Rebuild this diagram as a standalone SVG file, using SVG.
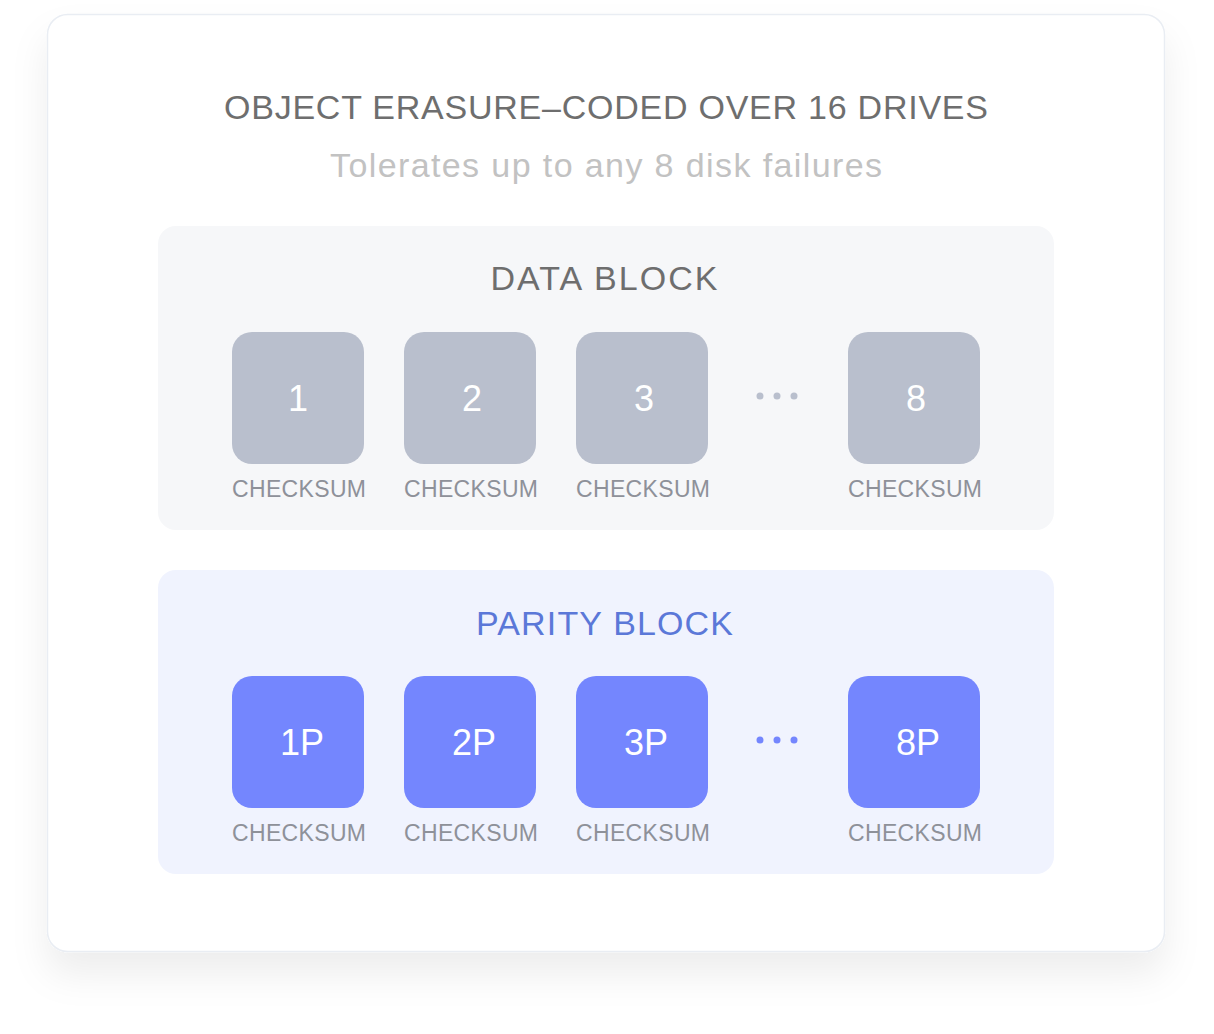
<svg xmlns="http://www.w3.org/2000/svg" width="1214" height="1034" viewBox="0 0 1214 1034">
<defs>
<filter id="sh" x="-10%" y="-10%" width="120%" height="125%">
<feDropShadow dx="0" dy="22" stdDeviation="18" flood-color="#000" flood-opacity="0.07"/>
</filter>
<style>
text{font-family:"Liberation Sans",Arial,sans-serif;text-anchor:middle}
.title{font-size:34px;fill:#6e6e6e}
.sub{font-size:34px;fill:#c2c2c2}
.dh{font-size:34px;fill:#6e6e6e}
.ph{font-size:34px;fill:#5b78d8}
.dbox{fill:#b9bfcd}
.pbox{fill:#7486fe}
.num{font-size:36px;fill:#ffffff}
.ck{font-size:23px;fill:#8e9199}
.ddot{fill:#b9bfcd}
.pdot{fill:#7486fe}
</style>
</defs>
<rect width="1214" height="1034" fill="#ffffff"/>
<g id="card">
<rect x="47.5" y="14.5" width="1117" height="937" rx="20" fill="#ffffff" stroke="#e9edf3" stroke-width="1.5" filter="url(#sh)"/>
<text class="title" x="606" y="119" textLength="764" lengthAdjust="spacing">OBJECT ERASURE–CODED OVER 16 DRIVES</text>
<text class="sub" x="606" y="177" textLength="552" lengthAdjust="spacing">Tolerates up to any 8 disk failures</text>
</g>
<g id="data-block">
<rect x="158" y="226" width="896" height="304" rx="18" fill="#f6f7f9"/>
<text class="dh" x="604" y="290" textLength="227" lengthAdjust="spacing">DATA BLOCK</text>
</g>
<g id="d1"><rect class="dbox" x="232" y="332" width="132" height="132" rx="20"/><text class="num" x="298" y="411">1</text><text class="ck" x="299" y="497" textLength="134" lengthAdjust="spacing">CHECKSUM</text></g>
<g id="d2"><rect class="dbox" x="404" y="332" width="132" height="132" rx="20"/><text class="num" x="472" y="411">2</text><text class="ck" x="471" y="497" textLength="134" lengthAdjust="spacing">CHECKSUM</text></g>
<g id="d3"><rect class="dbox" x="576" y="332" width="132" height="132" rx="20"/><text class="num" x="644" y="411">3</text><text class="ck" x="643" y="497" textLength="134" lengthAdjust="spacing">CHECKSUM</text></g>
<g id="d-dots"><circle class="ddot" cx="760" cy="396" r="3.5"/><circle class="ddot" cx="777" cy="396" r="3.5"/><circle class="ddot" cx="794" cy="396" r="3.5"/></g>
<g id="d8"><rect class="dbox" x="848" y="332" width="132" height="132" rx="20"/><text class="num" x="916" y="411">8</text><text class="ck" x="915" y="497" textLength="134" lengthAdjust="spacing">CHECKSUM</text></g>
<g id="parity-block">
<rect x="158" y="570" width="896" height="304" rx="18" fill="#f0f3fe"/>
<text class="ph" x="604.5" y="635" textLength="257" lengthAdjust="spacing">PARITY BLOCK</text>
</g>
<g id="p1"><rect class="pbox" x="232" y="676" width="132" height="132" rx="20"/><text class="num" x="302" y="755">1P</text><text class="ck" x="299" y="841" textLength="134" lengthAdjust="spacing">CHECKSUM</text></g>
<g id="p2"><rect class="pbox" x="404" y="676" width="132" height="132" rx="20"/><text class="num" x="474" y="755">2P</text><text class="ck" x="471" y="841" textLength="134" lengthAdjust="spacing">CHECKSUM</text></g>
<g id="p3"><rect class="pbox" x="576" y="676" width="132" height="132" rx="20"/><text class="num" x="646" y="755">3P</text><text class="ck" x="643" y="841" textLength="134" lengthAdjust="spacing">CHECKSUM</text></g>
<g id="p-dots"><circle class="pdot" cx="760" cy="740" r="3.5"/><circle class="pdot" cx="777" cy="740" r="3.5"/><circle class="pdot" cx="794" cy="740" r="3.5"/></g>
<g id="p8"><rect class="pbox" x="848" y="676" width="132" height="132" rx="20"/><text class="num" x="918" y="755">8P</text><text class="ck" x="915" y="841" textLength="134" lengthAdjust="spacing">CHECKSUM</text></g>
<g id="connectors"/>
</svg>
